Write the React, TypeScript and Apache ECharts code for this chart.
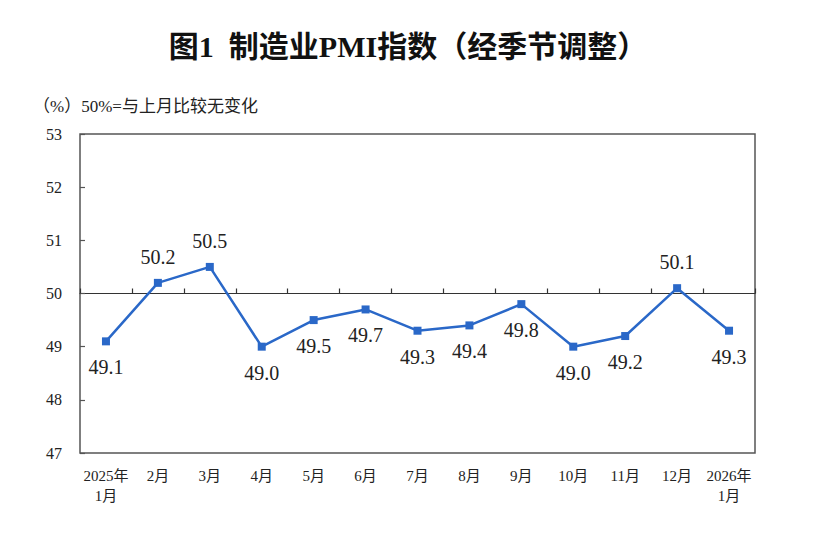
import React, { useEffect, useRef } from "react";
import * as echarts from "echarts";

const categories = ["2025年\n1月", "2月", "3月", "4月", "5月", "6月", "7月", "8月", "9月", "10月", "11月", "12月", "2026年\n1月"];
const pmiValues = [49.1, 50.2, 50.5, 49.0, 49.5, 49.7, 49.3, 49.4, 49.8, 49.0, 49.2, 50.1, 49.3];
const labelPositions = ["bottom", "top", "top", "bottom", "bottom", "bottom", "bottom", "bottom", "bottom", "bottom", "bottom", "top", "bottom"];

const FONT = "'Liberation Serif', 'Times New Roman', 'Noto Sans CJK SC', serif";

export default function App() {
  const ref = useRef<HTMLDivElement>(null);
  useEffect(() => {
    if (!ref.current) return;
    const chart = echarts.init(ref.current, undefined, { renderer: "svg" });
    const H = 529;
    const gridTop = 126;
    const gridBottom = 84;
    const gridHeight = H - gridTop - gridBottom;
    const yMin = 47;
    const yMax = 53;
    const offset50 = -((50 - yMin) / (yMax - yMin)) * gridHeight;
    chart.setOption({
      animation: false,
      title: [
        {
          text: "图1  制造业PMI指数（经季节调整）",
          left: "center",
          top: 18,
          textStyle: { fontFamily: FONT, fontSize: 30, fontWeight: "bold", color: "#111" },
        },
        {
          text: "（%）50%=与上月比较无变化",
          left: 20,
          top: 85,
          textStyle: { fontFamily: FONT, fontSize: 17, fontWeight: "normal", color: "#222" },
        },
      ],
      grid: {
        left: 72,
        right: 53,
        top: gridTop,
        bottom: gridBottom,
        show: true,
        borderColor: "#555",
        borderWidth: 1.5,
        backgroundColor: "transparent",
      },
      xAxis: [
        {
          type: "category",
          data: categories,
          boundaryGap: true,
          axisLine: { show: false },
          axisTick: { show: false },
          axisLabel: {
            interval: 0,
            color: "#222",
            fontFamily: FONT,
            fontSize: 15,
            lineHeight: 20,
            margin: 13,
          },
        },
        {
          type: "category",
          data: categories,
          boundaryGap: true,
          position: "bottom",
          offset: offset50,
          axisLine: { show: true, lineStyle: { color: "#333", width: 1.2 } },
          axisTick: { show: true, inside: true, length: 5, lineStyle: { color: "#333", width: 1.2 } },
          axisLabel: { show: false },
        },
      ],
      yAxis: {
        type: "value",
        min: yMin,
        max: yMax,
        interval: 1,
        axisLine: { show: false },
        axisTick: { show: true, inside: true, length: 5, lineStyle: { color: "#555", width: 1.2 } },
        splitLine: { show: false },
        axisLabel: { color: "#222", fontFamily: FONT, fontSize: 16, margin: 18 },
      },
      series: [
        {
          type: "line",
          data: pmiValues.map((v, i) => ({
            value: v,
            label: { position: labelPositions[i] },
          })),
          symbol: "rect",
          symbolSize: 8,
          lineStyle: { color: "#2a68c8", width: 2.5 },
          itemStyle: { color: "#2a68c8" },
          label: {
            show: true,
            distance: 12,
            color: "#222",
            fontFamily: FONT,
            fontSize: 20,
            formatter: (p: any) => Number(p.value).toFixed(1),
          },
          z: 5,
        },
      ],
    });
    return () => chart.dispose();
  }, []);
  return <div ref={ref} style={{ width: 800, height: 529 }} />;
}
